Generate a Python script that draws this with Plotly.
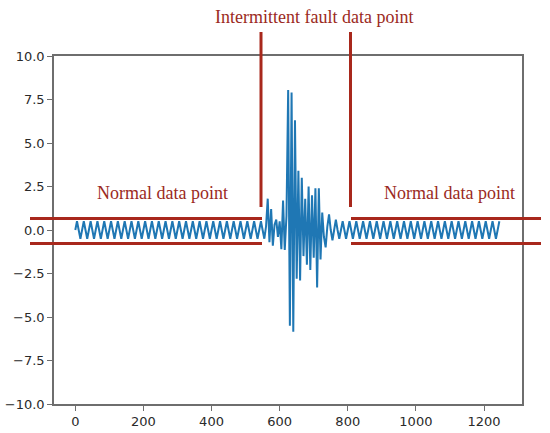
import numpy as np
import plotly.graph_objects as go

# signal, one sample every 5 time steps
sample_step = 5

# normal part before the fault (t = 0 .. 545)
normal_left = [
    0.0, 0.5, 0.0, -0.5, 0.0, 0.5, 0.0, -0.5, 0.0, 0.5, 0.0, -0.5, 0.0, 0.5, 0.0, -0.5,
    0.0, 0.5, 0.0, -0.5, 0.0, 0.5, 0.0, -0.5, 0.0, 0.5, 0.0, -0.5, 0.0, 0.5, 0.0, -0.5,
    0.0, 0.5, 0.0, -0.5, 0.0, 0.5, 0.0, -0.5, 0.0, 0.5, 0.0, -0.5, 0.0, 0.5, 0.0, -0.5,
    0.0, 0.5, 0.0, -0.5, 0.0, 0.5, 0.0, -0.5, 0.0, 0.5, 0.0, -0.5, 0.0, 0.5, 0.0, -0.5,
    0.0, 0.5, 0.0, -0.5, 0.0, 0.5, 0.0, -0.5, 0.0, 0.5, 0.0, -0.5, 0.0, 0.5, 0.0, -0.5,
    0.0, 0.5, 0.0, -0.5, 0.0, 0.5, 0.0, -0.5, 0.0, 0.5, 0.0, -0.5, 0.0, 0.5, 0.0, -0.5,
    0.0, 0.5, 0.0, -0.5, 0.0, 0.5, 0.0, -0.5, 0.0, 0.5, 0.0, -0.5, 0.0, 0.5,
]

# intermittent fault part (t = 550 .. 805)
fault = [
    0.0, -0.5, 0.2, 1.8, -0.7, 1.2, -0.9, 0.3, 0.6, -0.4, 0.5, -1.1, 1.7, -1.15, 0.8,
    8.05, -5.5, 7.9, -5.85, 6.3, -2.8, 3.4, -2.9, 3.0, -1.5, 1.8, -2.0, 2.5, -2.3,
    2.0, -1.6, 2.4, -3.3, 2.4, -1.7, 1.0, -0.4, -1.0, 0.2, 0.9, 0.0, -0.6, 0.0,
    0.6, 0.0, -0.5, 0.0, 0.5, 0.0, -0.5, 0.0, 0.5,
]

# normal part after the fault (t = 810 .. 1245)
normal_right = [
    0.0, -0.5, 0.0, 0.5, 0.0, -0.5, 0.0, 0.5, 0.0, -0.5, 0.0, 0.5, 0.0, -0.5, 0.0, 0.5,
    0.0, -0.5, 0.0, 0.5, 0.0, -0.5, 0.0, 0.5, 0.0, -0.5, 0.0, 0.5, 0.0, -0.5, 0.0, 0.5,
    0.0, -0.5, 0.0, 0.5, 0.0, -0.5, 0.0, 0.5, 0.0, -0.5, 0.0, 0.5, 0.0, -0.5, 0.0, 0.5,
    0.0, -0.5, 0.0, 0.5, 0.0, -0.5, 0.0, 0.5, 0.0, -0.5, 0.0, 0.5, 0.0, -0.5, 0.0, 0.5,
    0.0, -0.5, 0.0, 0.5, 0.0, -0.5, 0.0, 0.5, 0.0, -0.5, 0.0, 0.5, 0.0, -0.5, 0.0, 0.5,
    0.0, -0.5, 0.0, 0.5, 0.0, -0.5, 0.0, 0.5,
]

x_ticks = [0, 200, 400, 600, 800, 1000, 1200]
y_ticks = [-10, -7.5, -5, -2.5, 0, 2.5, 5, 7.5, 10]
y_ticktext = ['\u221210.0', '\u22127.5', '\u22125.0', '\u22122.5', '0.0', '2.5', '5.0', '7.5', '10.0']

label_fault = 'Intermittent fault data point'
label_normal = 'Normal data point'

signal = normal_left + fault + normal_right
t = np.arange(len(signal)) * sample_step

W, H = 550, 433
L, R, T, B = 54, 522, 56, 404   # plot area in pixels
red = '#a8281c'
text_red = '#9b2a22'
axis_col = '#6e6e6e'


def px(x):
    return (x - L) / (R - L)


def py(y):
    return (B - y) / (B - T)


fig = go.Figure()
fig.add_trace(go.Scatter(
    x=t, y=signal, mode='lines',
    line=dict(color='#1f77b4', width=2), showlegend=False
))

shapes = []
# horizontal band lines
for x0, x1 in [(30, 262), (351, 541)]:
    for y in [218.5, 243.5]:
        shapes.append(dict(type='line', xref='paper', yref='paper',
                           x0=px(x0), x1=px(x1), y0=py(y), y1=py(y),
                           line=dict(color=red, width=3)))
# vertical fault boundaries
for x in [261, 350.5]:
    shapes.append(dict(type='line', xref='paper', yref='paper',
                       x0=px(x), x1=px(x), y0=py(32), y1=py(207),
                       line=dict(color=red, width=3)))

annotations = [
    dict(text=label_fault, x=px(314), y=py(17)),
    dict(text=label_normal, x=px(162), y=py(193)),
    dict(text=label_normal, x=px(449), y=py(193)),
]
for a in annotations:
    a.update(xref='paper', yref='paper', showarrow=False,
             xanchor='center', yanchor='middle',
             font=dict(family='Liberation Serif', size=18, color=text_red))

axis_common = dict(
    showline=True, mirror=True, linecolor=axis_col, linewidth=1.5,
    ticks='outside', ticklen=5, tickwidth=1.2, tickcolor=axis_col,
    showgrid=False, zeroline=False, automargin=False,
    tickfont=dict(family='DejaVu Sans', size=13, color='#2a2a2a'),
)

fig.update_layout(
    width=W, height=H,
    margin=dict(l=L, r=W - R, t=T, b=H - B),
    plot_bgcolor='white', paper_bgcolor='white',
    xaxis=dict(range=[-62.5, 1311.5], tickvals=x_ticks, **axis_common),
    yaxis=dict(range=[-10, 10], tickvals=y_ticks, ticktext=y_ticktext, **axis_common),
    shapes=shapes,
    annotations=annotations,
)

# drop the default 8px page margin so the figure sits at the window corner
fig.write_html("out.html", config={'displayModeBar': False},
               post_script="document.body.style.margin = '0';")
